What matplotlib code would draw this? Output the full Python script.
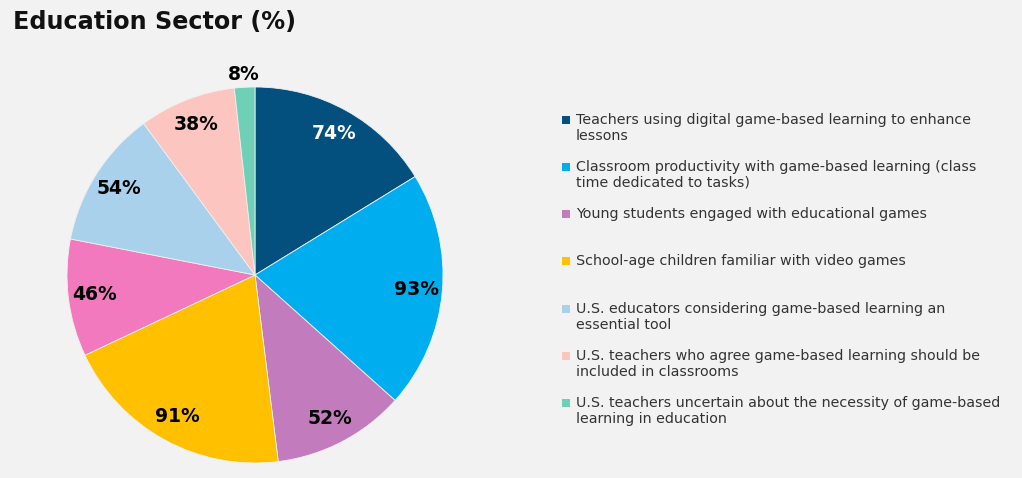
import matplotlib.pyplot as plt
import numpy as np
from matplotlib.patches import Rectangle

values = [74, 93, 52, 91, 46, 54, 38, 8]
pct_labels = ["74%", "93%", "52%", "91%", "46%", "54%", "38%", "8%"]
colors = ["#03507f", "#00aeef", "#c27cbd", "#ffc000", "#f279bd",
          "#a9d1ec", "#fcc5bf", "#6fcfb7"]
label_colors = ["white", "black", "black", "black", "black", "black", "black", "black"]
# legend entries (the pink slice has no entry in the source)
legend_labels = [
    "Teachers using digital game-based learning to enhance\nlessons",
    "Classroom productivity with game-based learning (class\ntime dedicated to tasks)",
    "Young students engaged with educational games",
    "School-age children familiar with video games",
    None,
    "U.S. educators considering game-based learning an\nessential tool",
    "U.S. teachers who agree game-based learning should be\nincluded in classrooms",
    "U.S. teachers uncertain about the necessity of game-based\nlearning in education",
]
legend_y = [120, 167, 214, 261, None, 309, 356, 403]  # px from top, first line

W, H = 1022, 478
bg = "#f2f2f2"
fig = plt.figure(figsize=(W / 100, H / 100), dpi=100, facecolor=bg)

fig.text(13 / W, 1 - 22 / H, "Education Sector (%)", fontsize=17.2,
         fontweight="bold", va="center", ha="left", color="#111111")

# pie
cx, cy, r = 255, 275, 188
ax = fig.add_axes([(cx - r) / W, (H - cy - r) / H, 2 * r / W, 2 * r / H])
ax.set_facecolor(bg)
wedges, _ = ax.pie(values, colors=colors, startangle=90, counterclock=False,
                   wedgeprops=dict(edgecolor="#f0f0f0", linewidth=0.6))
total = sum(values)
start = 90.0
for v, lab, lc in zip(values, pct_labels, label_colors):
    mid = np.deg2rad(start - v / total * 360 / 2)
    start -= v / total * 360
    d = 1.07 if v < 15 else 0.86
    ax.text(d * np.cos(mid), d * np.sin(mid), lab, ha="center", va="center",
            fontsize=13.5, fontweight="bold", color=lc)
ax.set_xlim(-1, 1)
ax.set_ylim(-1, 1)
ax.axis("off")

# legend
for lab, col, y in zip(legend_labels, colors, legend_y):
    if lab is None:
        continue
    fig.patches.append(Rectangle((562 / W, 1 - (y + 4) / H), 8 / W, 8 / H,
                                 transform=fig.transFigure, facecolor=col,
                                 edgecolor="none"))
    fig.text(576 / W, 1 - (y - 7) / H, lab, fontsize=10.3, va="top", ha="left",
             color="#333333", linespacing=1.17)

fig.savefig("out.png", dpi=100, facecolor=bg)
